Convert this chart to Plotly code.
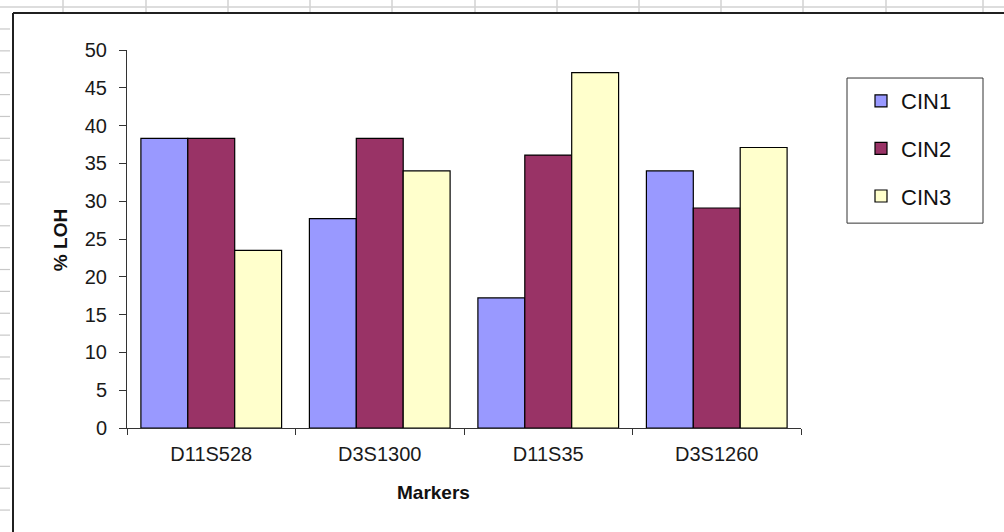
import plotly.graph_objects as go

# Loss-of-heterozygosity by marker and CIN grade
markers = ["D11S528", "D3S1300", "D11S35", "D3S1260"]
cin1 = [38.3, 27.7, 17.2, 34.0]
cin2 = [38.3, 38.3, 36.1, 29.1]
cin3 = [23.5, 34.0, 47.0, 37.1]
series_names = ["CIN1", "CIN2", "CIN3"]
series_colors = ["#9999FF", "#993366", "#FFFFCC"]

W, H = 1004, 532
PL, PR, PT, PB = 127, 801, 50, 427.7  # plot area in pixels

def fx(px):
    return (px - PL) / (PR - PL)

def fy(py):
    return (PB - py) / (PB - PT)

FONT = "Arial, 'Liberation Sans', sans-serif"

fig = go.Figure()
for name, vals, col in zip(series_names, [cin1, cin2, cin3], series_colors):
    fig.add_trace(go.Bar(
        name=name, x=markers, y=vals, legendgroup=name,
        marker=dict(color=col, line=dict(color="#000000", width=1.2)),
    ))

shapes = []
# worksheet gridlines around the embedded chart
shapes.append(dict(type="line", xref="paper", yref="paper",
                   x0=fx(0), x1=fx(W), y0=fy(7), y1=fy(7),
                   line=dict(color="#d2d2d2", width=1.5)))
for gx in [63, 146, 228, 310, 392, 475, 557, 639, 721, 803, 886, 983]:
    shapes.append(dict(type="line", xref="paper", yref="paper",
                       x0=fx(gx), x1=fx(gx), y0=fy(0), y1=fy(13),
                       line=dict(color="#d2d2d2", width=1.5)))
for k in range(23):
    gy = 29 + 21.85 * k
    shapes.append(dict(type="line", xref="paper", yref="paper",
                       x0=fx(0), x1=fx(10), y0=fy(gy), y1=fy(gy),
                       line=dict(color="#c8c8c8", width=1.2)))
# chart frame
shapes.append(dict(type="line", xref="paper", yref="paper",
                   x0=fx(13), x1=fx(W + 2), y0=fy(13), y1=fy(13),
                   line=dict(color="#202020", width=2)))
shapes.append(dict(type="line", xref="paper", yref="paper",
                   x0=fx(13), x1=fx(13), y0=fy(13), y1=fy(H + 2),
                   line=dict(color="#202020", width=2)))
# legend box outline
shapes.append(dict(type="rect", xref="paper", yref="paper",
                   x0=fx(847), x1=fx(983), y0=fy(223), y1=fy(78),
                   line=dict(color="#333333", width=1), fillcolor="white",
                   layer="above"))

annotations = [
    dict(text="<b>Markers</b>", xref="paper", yref="paper",
         x=fx(433.5), y=fy(492), xanchor="center", yanchor="middle",
         showarrow=False, font=dict(family=FONT, size=19, color="#111111")),
    dict(text="<b>% LOH</b>", xref="paper", yref="paper",
         x=fx(60.5), y=fy(240.5), xanchor="center", yanchor="middle",
         textangle=-90, showarrow=False,
         font=dict(family=FONT, size=19, color="#111111")),
]

fig.update_layout(
    width=W, height=H,
    margin=dict(l=PL, r=W - PR, t=PT, b=H - PB, autoexpand=False),
    paper_bgcolor="white", plot_bgcolor="white",
    barmode="group", bargap=0.165, bargroupgap=0,
    font=dict(family=FONT, size=20, color="#1a1a1a"),
    showlegend=True,
    legend=dict(x=fx(861), y=fy(80), xanchor="left", yanchor="top",
                bgcolor="rgba(0,0,0,0)", borderwidth=0,
                font=dict(family=FONT, size=22, color="#111111"),
                tracegroupgap=16, traceorder="grouped", itemwidth=30),
    shapes=shapes, annotations=annotations,
)
fig.update_xaxes(
    type="category", showline=True, linecolor="#333333", linewidth=1,
    ticks="outside", ticklen=6, tickcolor="#333333", tickson="boundaries",
    showgrid=False, zeroline=False,
    tickfont=dict(family=FONT, size=20, color="#1a1a1a"),
    ticklabelstandoff=8,
)
fig.update_yaxes(
    range=[0, 50], dtick=5, showline=True, linecolor="#333333", linewidth=1,
    ticks="outside", ticklen=7, tickcolor="#333333",
    showgrid=False, zeroline=False,
    tickfont=dict(family=FONT, size=20, color="#1a1a1a"),
    ticklabelstandoff=8,
)

fig.write_html("out.html")
